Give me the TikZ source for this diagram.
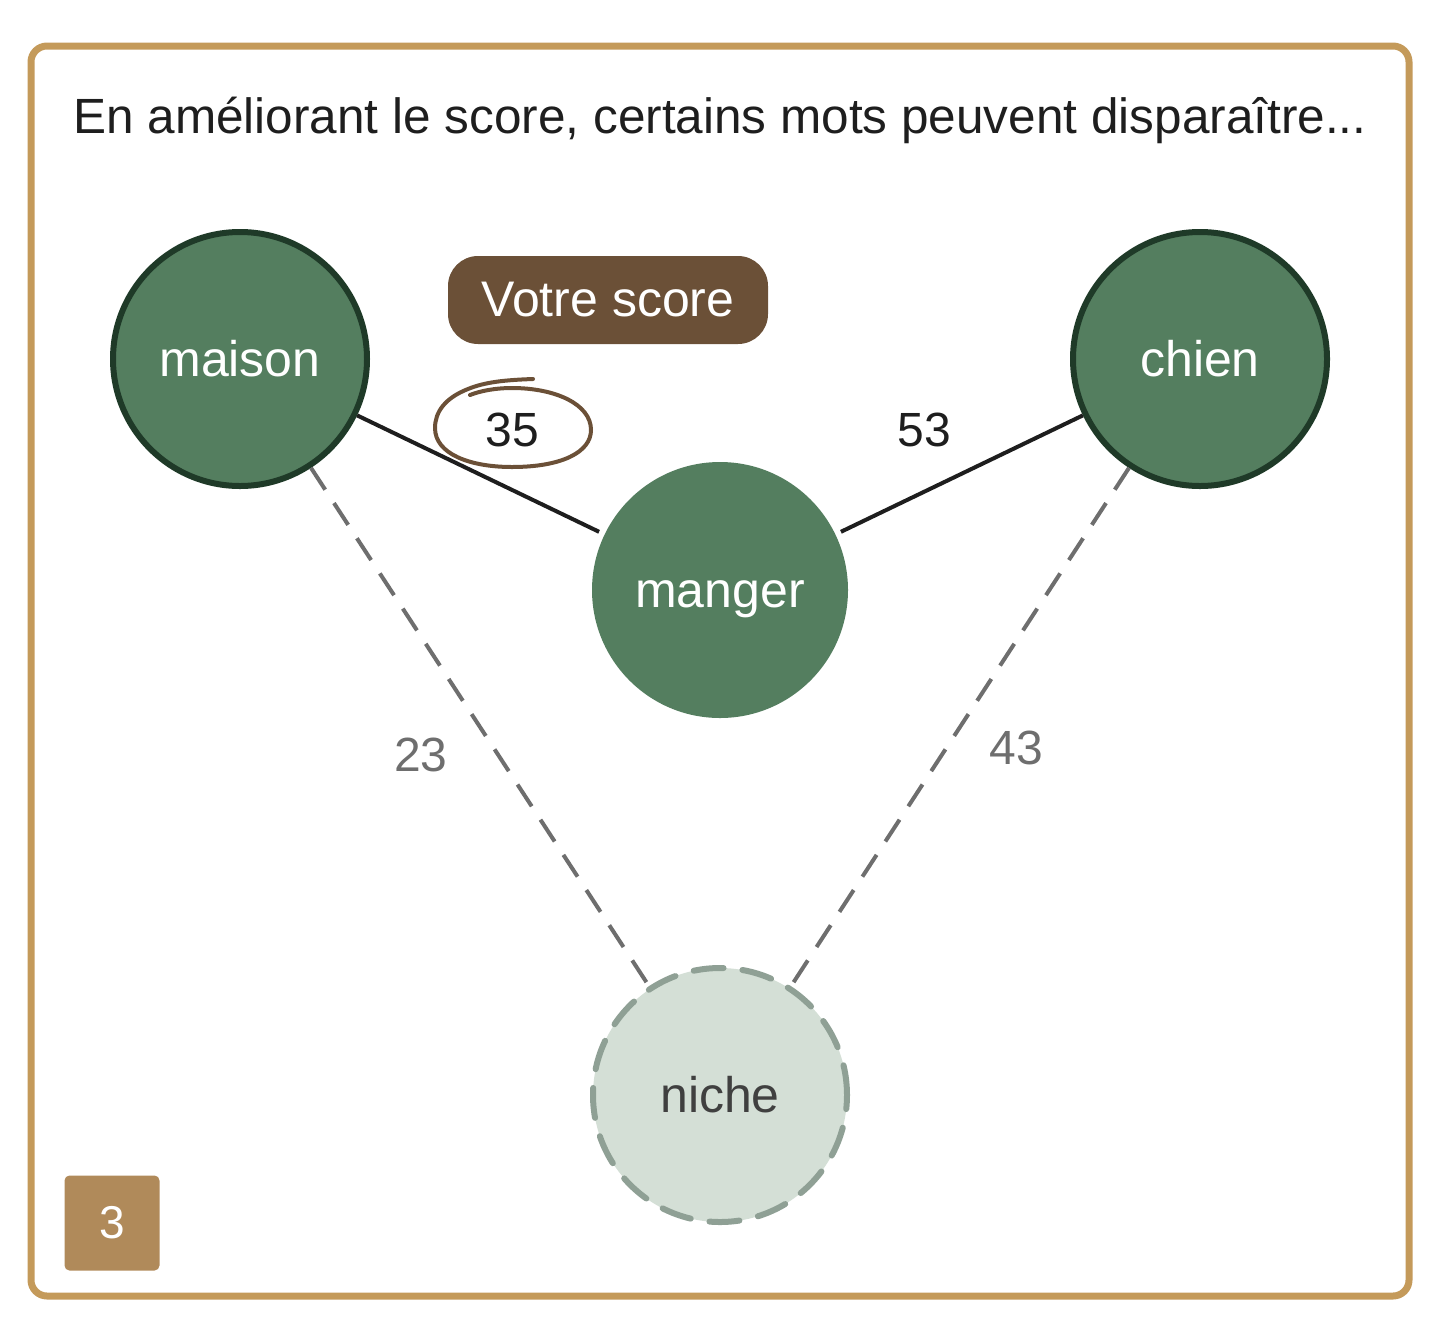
\documentclass[tikz,border=0pt]{standalone}
\usepackage{fontspec}
\setmainfont{Liberation Sans}
\definecolor{frame}{HTML}{C49A5A}
\definecolor{leaf}{HTML}{547E5F}
\definecolor{leafdark}{HTML}{1F3A28}
\definecolor{pale}{HTML}{D4DFD6}
\definecolor{paledash}{HTML}{8FA095}
\definecolor{bark}{HTML}{6B5037}
\definecolor{badgecol}{HTML}{B08A5A}
\definecolor{ink}{HTML}{1E1E1E}
\definecolor{mute}{HTML}{6E6E6E}

\begin{document}
\begin{tikzpicture}[
    x=1pt, y=-1pt,
    word/.style={circle, fill=leaf, minimum size=254pt, inner sep=0pt, text=white, font=\fontsize{50}{60}\selectfont, text height=34pt, text depth=0pt},
    wordring/.style={word, draw=leafdark, line width=6pt},
    ghost/.style={circle, fill=pale, draw=paledash, line width=6pt, dash pattern=on 30pt off 19pt, line cap=round, minimum size=254pt, inner sep=0pt, text=ink!85, font=\fontsize{50}{60}\selectfont, text height=34pt, text depth=0pt},
    edge/.style={line width=4pt, ink},
    weak/.style={line width=4pt, mute, dash pattern=on 26pt off 16pt},
    num/.style={font=\fontsize{48}{58}\selectfont, text=ink},
    numgray/.style={font=\fontsize{48}{58}\selectfont, text=mute}
]
\useasboundingbox (0,0) rectangle (1439,1342);

% frame and heading
\draw[frame, line width=7pt, rounded corners=16pt] (31,46) rectangle (1409,1296);
\node[font=\fontsize{49.5}{60}\selectfont, text=ink] (title) at (720,120) {En améliorant le score, certains mots peuvent disparaître...};

% word nodes
\node[wordring] (maison) at (240,359) {maison};
\node[wordring] (chien) at (1200,359) {chien};
\node[word, minimum size=256pt] (manger) at (720,590) {manger};
\node[ghost] (niche) at (720,1095) {niche};

% score tag
\node[fill=bark, rounded corners=30pt, minimum width=320pt, minimum height=88pt, text=white, font=\fontsize{50}{60}\selectfont] (tag) at (608,300) {Votre score};

% links
\draw[edge, shorten >=6pt] (maison) -- (manger);
\draw[edge, shorten <=6pt] (manger) -- (chien);
\draw[weak] (maison) -- (niche);
\draw[weak] (chien) -- (niche);

% scores
\node[num] (s35) at (512,430) {35};
\node[num] (s53) at (924,430) {53};
\node[numgray] (s23) at (421,755) {23};
\node[numgray] (s43) at (1016,748) {43};

% hand drawn ring round 35
\draw[bark, line width=4pt, line cap=round]
  (533,379) .. controls (505,380) and (485,382) .. (468,389)
  .. controls (445,398) and (435,412) .. (435,428)
  .. controls (435,454) and (470,467) .. (512,467)
  .. controls (562,467) and (591,452) .. (591,430)
  .. controls (591,404) and (555,388) .. (512,388)
  .. controls (495,388) and (480,391) .. (470,395);

% step badge
\node[fill=badgecol, rounded corners=5pt, minimum size=95pt, text=white, font=\fontsize{46}{54}\selectfont] (step3) at (112,1223) {3};

\end{tikzpicture}
\end{document}
